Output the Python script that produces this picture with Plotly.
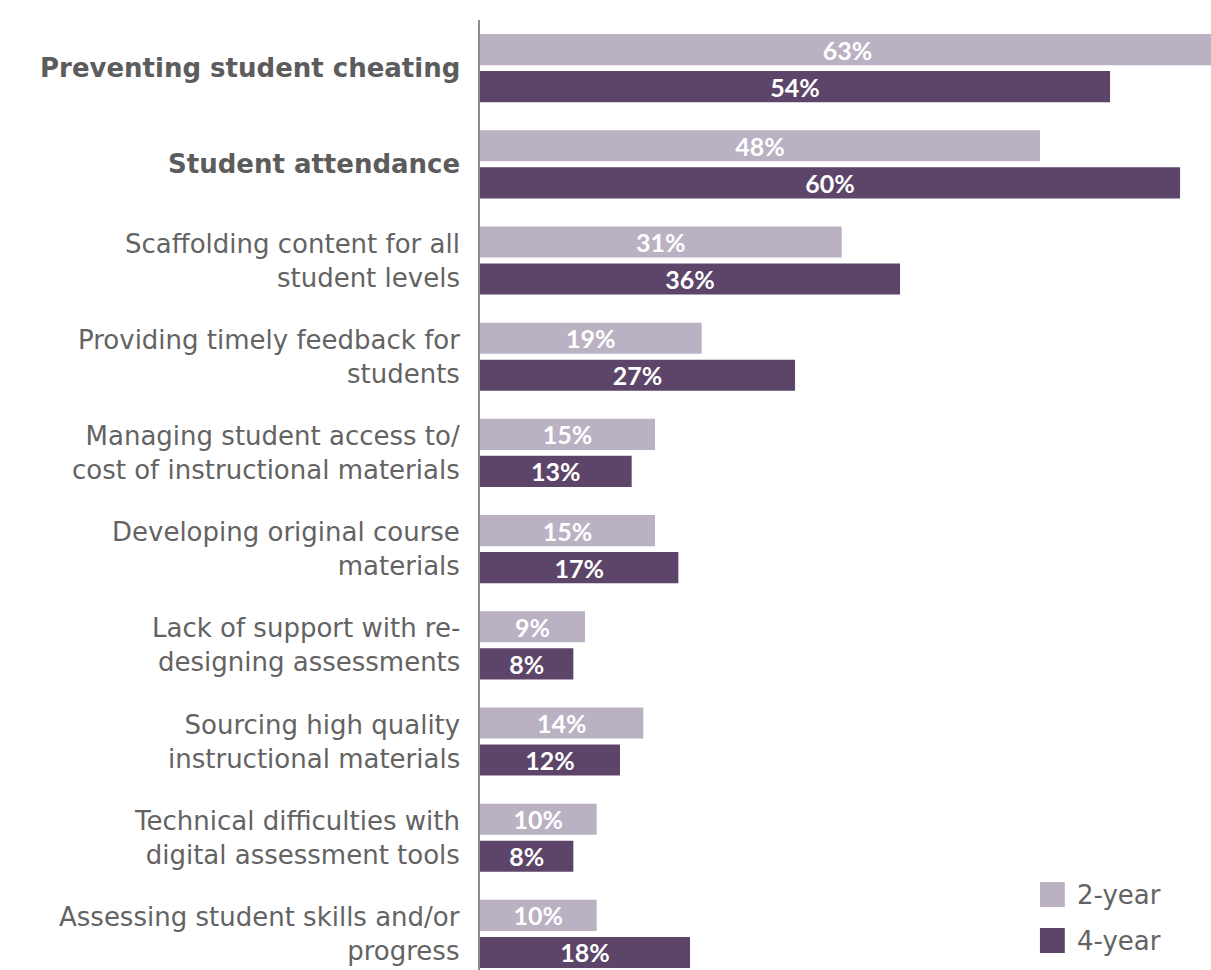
import plotly.graph_objects as go

# Survey responses: share of faculty citing each challenge
categories = [
    "<b>Preventing student cheating</b>",
    "<b>Student attendance</b>",
    "Scaffolding content for all<br>student levels",
    "Providing timely feedback for<br>students",
    "Managing student access to/<br>cost of instructional materials",
    "Developing original course<br>materials",
    "Lack of support with re-<br>designing assessments",
    "Sourcing high quality<br>instructional materials",
    "Technical difficulties with<br>digital assessment tools",
    "Assessing student skills and/or<br>progress",
]
two_year = [63, 48, 31, 19, 15, 15, 9, 14, 10, 10]
four_year = [54, 60, 36, 27, 13, 17, 8, 12, 8, 18]
series_names = ["2-year", "4-year"]

COLOR_2YR = "#bab1c3"
COLOR_4YR = "#5c4569"
TEXT_GRAY = "#636363"
LABEL_FONT = "'DejaVu Sans', Verdana, sans-serif"
VALUE_FONT = "Lato, 'Open Sans', sans-serif"

fig = go.Figure()
for name, vals, col in [(series_names[0], two_year, COLOR_2YR),
                        (series_names[1], four_year, COLOR_4YR)]:
    fig.add_trace(go.Bar(
        y=categories,
        x=vals,
        name=name,
        orientation="h",
        marker=dict(color=col, line=dict(width=0)),
        text=[f"<b>{v}%</b>" for v in vals],
        textposition="inside",
        insidetextanchor="middle",
        textangle=0,
        constraintext="none",
        insidetextfont=dict(color="white", size=25, family=VALUE_FONT),
        showlegend=False,
        hoverinfo="skip",
    ))

fig.update_layout(
    width=1211,
    height=970,
    margin=dict(l=480, r=0, t=20, b=0),
    paper_bgcolor="white",
    plot_bgcolor="white",
    barmode="group",
    bargap=0.23,
    bargroupgap=0.16,
    showlegend=False,
)

fig.update_xaxes(
    range=[0, 62.65],
    visible=False,
    showgrid=False,
    zeroline=False,
)
fig.update_yaxes(
    range=[9.375, -0.5],
    showgrid=False,
    zeroline=False,
    showline=True,
    linecolor="#8a8c8e",
    linewidth=2,
    ticks="",
    showticklabels=False,
)

# Category labels, right-aligned against the axis
for cat in categories:
    bold = cat.startswith("<b>")
    fig.add_annotation(
        xref="paper", yref="y",
        x=0, y=cat,
        xanchor="right", yanchor="middle", align="right",
        xshift=-18,
        text=cat, showarrow=False,
        font=dict(family=LABEL_FONT, size=26 if bold else 26,
                  color="#5c5c5c" if bold else TEXT_GRAY),
    )

# Legend: colour swatches with labels in the lower right corner
legend_items = [
    (series_names[0], COLOR_2YR, 0.0663, 0.0926),
    (series_names[1], COLOR_4YR, 0.0179, 0.0442),
]
for label, col, y0, y1 in legend_items:
    fig.add_shape(type="rect", xref="paper", yref="paper",
                  x0=0.766, x1=0.800, y0=y0, y1=y1,
                  fillcolor=col, line=dict(width=0))
    fig.add_annotation(xref="paper", yref="paper",
                       x=0.814, y=(y0 + y1) / 2,
                       text=label, showarrow=False,
                       xanchor="left", yanchor="middle",
                       font=dict(family=LABEL_FONT, size=26, color=TEXT_GRAY))

fig.write_html("out.html")
